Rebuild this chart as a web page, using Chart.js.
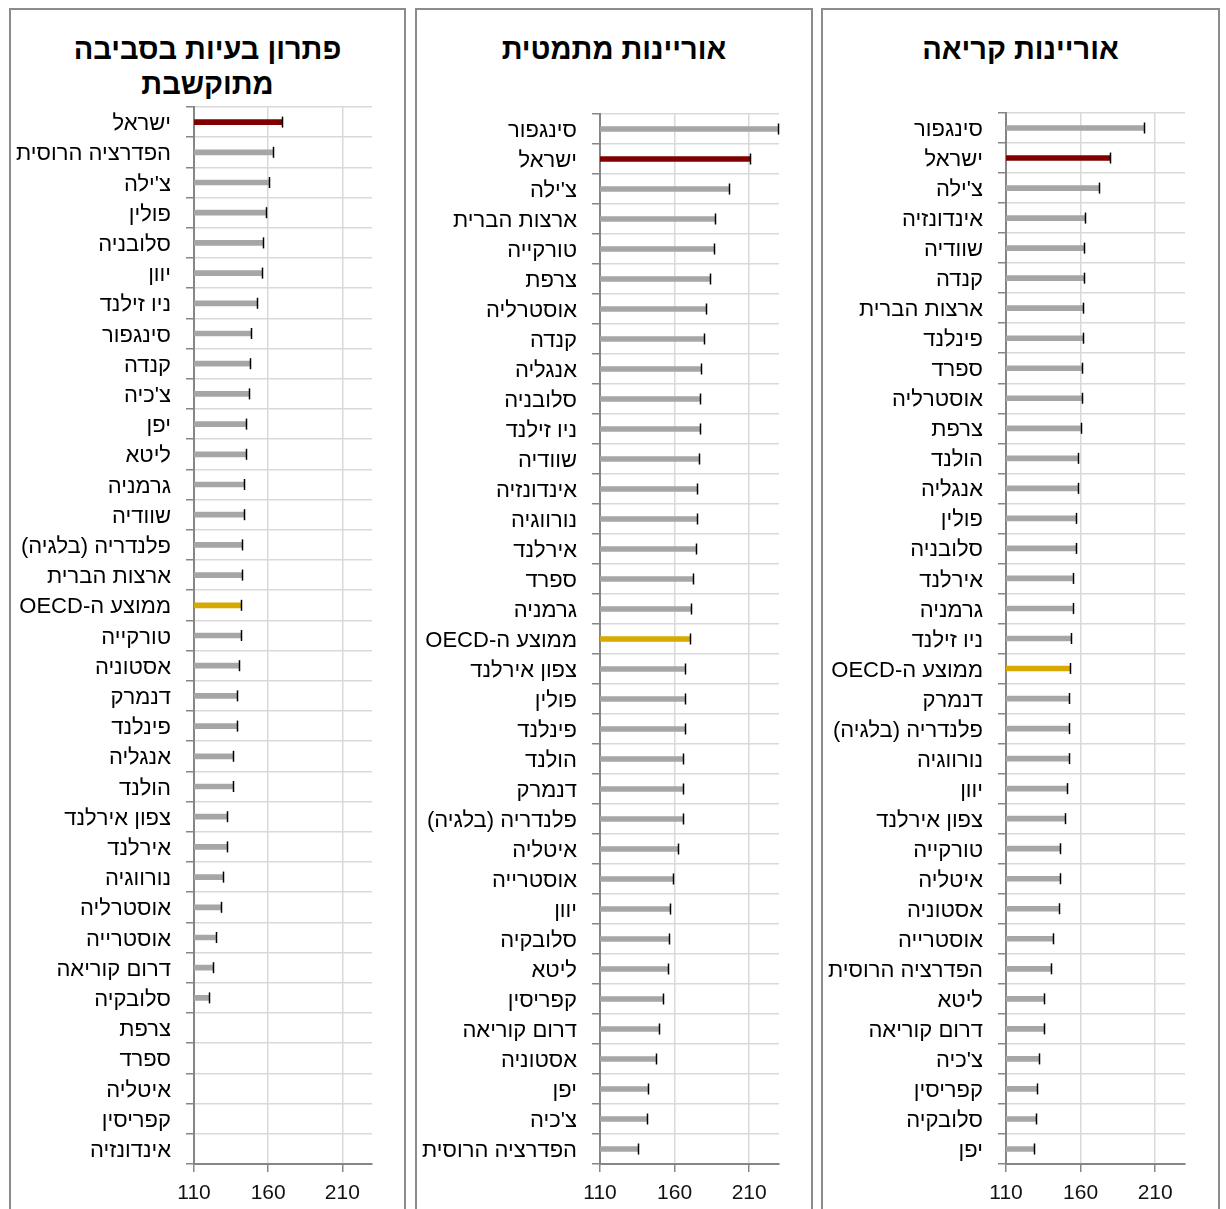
<!DOCTYPE html>
<html lang="he">
<head>
<meta charset="utf-8">
<script src="https://cdn.jsdelivr.net/npm/chart.js@4.4.1/dist/chart.umd.min.js"></script>
<style>
  html, body { margin: 0; padding: 0; background: #fff; }
  #page { position: relative; width: 1226px; height: 1209px; overflow: hidden; background: #fff; }
  .panel { position: absolute; top: 8px; height: 1220px; border: 2px solid #8c8c8c; box-sizing: border-box; }
  .title { position: absolute; top: 32px; text-align: center; font: bold 29px Arial, "Liberation Sans", "DejaVu Sans", sans-serif; line-height: 35px; color: #000; }
  canvas { position: absolute; top: 10px; }
</style>
</head>
<body>
<div id="page">
  <div class="panel" style="left:9px;width:397px"></div>
  <div class="panel" style="left:415px;width:398px"></div>
  <div class="panel" style="left:821px;width:399px"></div>

  <div class="title" dir="rtl" style="left:11px;width:393px">פתרון בעיות בסביבה<br>מתוקשבת</div>
  <div class="title" dir="rtl" style="left:417px;width:394px">אוריינות מתמטית</div>
  <div class="title" dir="rtl" style="left:823px;width:395px">אוריינות קריאה</div>

  <canvas id="c-ps" dir="rtl" width="393" height="1199" style="left:11px"></canvas>
  <canvas id="c-num" dir="rtl" width="394" height="1199" style="left:417px"></canvas>
  <canvas id="c-lit" dir="rtl" width="394" height="1199" style="left:823px"></canvas>
</div>

<script>
// x axis ticks shared by all three panels
const xTicks = [110, 160, 210];
const xMin = 110;
const xMax = 230;

// problem solving in technology-rich environments
const labelsPS = ["ישראל", "הפדרציה הרוסית", "צ'ילה", "פולין", "סלובניה", "יוון", "ניו זילנד", "סינגפור", "קנדה", "צ'כיה",
  "יפן", "ליטא", "גרמניה", "שוודיה", "פלנדריה (בלגיה)", "ארצות הברית", "ממוצע ה-OECD", "טורקייה", "אסטוניה", "דנמרק",
  "פינלנד", "אנגליה", "הולנד", "צפון אירלנד", "אירלנד", "נורווגיה", "אוסטרליה", "אוסטרייה", "דרום קוריאה", "סלובקיה",
  "צרפת", "ספרד", "איטליה", "קפריסין", "אינדונזיה"];
const valuesPS = [169.5, 163.4, 160.5, 158.3, 156.7, 155.6, 152.3, 148.5, 147.8, 147.1,
  145.3, 145.3, 143.8, 143.8, 142.4, 142.4, 141.5, 141.5, 140.2, 139.1,
  139.1, 136.6, 136.6, 132.3, 132.3, 129.7, 128.1, 124.5, 122.8, 120.1,
  null, null, null, null, null];

// numeracy
const labelsNum = ["סינגפור", "ישראל", "צ'ילה", "ארצות הברית", "טורקייה", "צרפת", "אוסטרליה", "קנדה", "אנגליה", "סלובניה",
  "ניו זילנד", "שוודיה", "אינדונזיה", "נורווגיה", "אירלנד", "ספרד", "גרמניה", "ממוצע ה-OECD", "צפון אירלנד", "פולין",
  "פינלנד", "הולנד", "דנמרק", "פלנדריה (בלגיה)", "איטליה", "אוסטרייה", "יוון", "סלובקיה", "ליטא", "קפריסין",
  "דרום קוריאה", "אסטוניה", "יפן", "צ'כיה", "הפדרציה הרוסית"];
const valuesNum = [229, 210.7, 196.3, 187.3, 186.7, 184, 181.3, 179.7, 177.9, 177.2,
  177.2, 176.6, 175.2, 175.2, 174.6, 172.5, 171.2, 170.3, 166.7, 166.7,
  166.7, 165.4, 165.4, 165.4, 162.2, 159.1, 157.1, 156.4, 155.5, 152.4,
  149.5, 147.7, 142.5, 141.8, 135.8];

// literacy
const labelsLit = ["סינגפור", "ישראל", "צ'ילה", "אינדונזיה", "שוודיה", "קנדה", "ארצות הברית", "פינלנד", "ספרד", "אוסטרליה",
  "צרפת", "הולנד", "אנגליה", "פולין", "סלובניה", "אירלנד", "גרמניה", "ניו זילנד", "ממוצע ה-OECD", "דנמרק",
  "פלנדריה (בלגיה)", "נורווגיה", "יוון", "צפון אירלנד", "טורקייה", "איטליה", "אסטוניה", "אוסטרייה", "הפדרציה הרוסית", "ליטא",
  "דרום קוריאה", "צ'כיה", "קפריסין", "סלובקיה", "יפן"];
const valuesLit = [202.3, 179.7, 172.5, 163.1, 162.5, 162.5, 161.6, 161.6, 160.7, 160.7,
  160, 158.4, 158.4, 157.1, 157.1, 154.6, 154.6, 153.9, 153, 152.4,
  152.4, 152.4, 151.2, 149.5, 146.3, 146.3, 145.2, 141.6, 140.1, 135.8,
  135.8, 132.4, 131.1, 130.2, 128.8];

const GRAY = "#a6a6a6", RED = "#800000", GOLD = "#d6aa00";
const AXIS = "#868686", GRID = "#d9d9d9";
const FONT = "Arial, 'Liberation Sans', 'DejaVu Sans', sans-serif";
// latin part of the labels (OECD) is narrower in the original
const LABEL_FONT = "'Liberation Sans Narrow', Arial, 'Liberation Sans', 'DejaVu Sans', sans-serif";

Chart.defaults.font.family = FONT;
Chart.defaults.color = "#000";

// small black end cap on each bar, like the excel error bar
const capPlugin = {
  id: "caps",
  afterDatasetsDraw(chart) {
    const ctx = chart.ctx;
    const xs = chart.scales.x;
    const meta = chart.getDatasetMeta(0);
    const vals = chart.data.datasets[0].data;
    ctx.save();
    ctx.strokeStyle = "#000";
    ctx.lineWidth = 1.5;
    meta.data.forEach((bar, i) => {
      if (vals[i] == null) return;
      const x = Math.round(xs.getPixelForValue(vals[i])) + 0.5;
      ctx.beginPath();
      ctx.moveTo(x, bar.y - 5.5);
      ctx.lineTo(x, bar.y + 5.5);
      ctx.stroke();
    });
    ctx.restore();
  }
};

function colorFor(label) {
  if (label === "ישראל") return RED;
  if (label.indexOf("OECD") >= 0) return GOLD;
  return GRAY;
}

function makePanel(id, labels, values, top) {
  return new Chart(document.getElementById(id), {
    type: "bar",
    data: {
      labels: labels,
      datasets: [{ data: values, backgroundColor: labels.map(colorFor), barThickness: 5, borderWidth: 0 }]
    },
    options: {
      indexAxis: "y",
      responsive: false,
      animation: false,
      devicePixelRatio: 1,
      layout: { padding: { top: top, right: 32, bottom: 0, left: 0 } },
      plugins: { legend: { display: false }, tooltip: { enabled: false } },
      scales: {
        x: {
          min: xMin, max: xMax,
          afterBuildTicks: (s) => { s.ticks = xTicks.map(v => ({ value: v })); },
          afterFit: (s) => { s.height = 45; },
          grid: { color: GRID, lineWidth: 1.5, tickColor: AXIS, tickLength: 8 },
          border: { color: AXIS, width: 2 },
          ticks: { font: { size: 21 }, color: "#111", padding: 9, maxRotation: 0 }
        },
        y: {
          afterFit: (s) => { s.width = 183; },
          grid: { color: GRID, lineWidth: 1.5, tickColor: AXIS, tickLength: 8, offset: true },
          border: { color: AXIS, width: 2 },
          ticks: { font: { size: 22, family: LABEL_FONT }, color: "#000", padding: 15, autoSkip: false, labelOffset: 2 }
        }
      }
    },
    plugins: [capPlugin]
  });
}

makePanel("c-ps", labelsPS, valuesPS, 97);
makePanel("c-num", labelsNum, valuesNum, 104);
makePanel("c-lit", labelsLit, valuesLit, 103);
</script>
</body>
</html>
